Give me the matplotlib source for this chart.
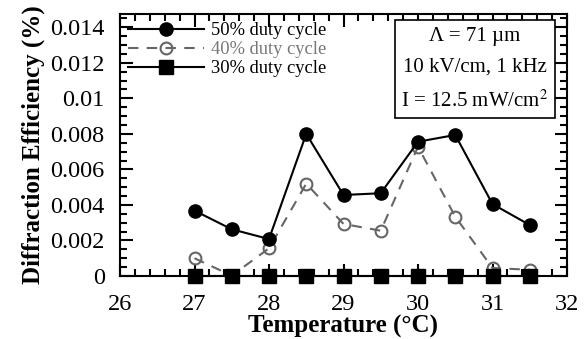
import matplotlib
matplotlib.use("Agg")
import matplotlib.pyplot as plt
from matplotlib.ticker import MultipleLocator, FixedLocator

temps = [27, 27.5, 28, 28.5, 29, 29.5, 30, 30.5, 31, 31.5]
duty50 = [0.00368, 0.00263, 0.00208, 0.0080, 0.00456, 0.00466, 0.00756, 0.00794, 0.00405, 0.00287]
duty40 = [0.00100, 0.00002, 0.00156, 0.0052, 0.00293, 0.00255, 0.00728, 0.00334, 0.00045, 0.00035]
duty30 = [0, 0, 0, 0, 0, 0, 0, 0, 0, 0]
yticks = [0, 0.002, 0.004, 0.006, 0.008, 0.01, 0.012, 0.014]
yticklabels = ["0", "0.002", "0.004", "0.006", "0.008", "0.01", "0.012", "0.014"]

plt.rcParams['font.family'] = ['Liberation Serif', 'DejaVu Serif']
plt.rcParams['mathtext.fontset'] = 'stix'

fig = plt.figure(figsize=(5.87, 3.39), dpi=100)
ax = fig.add_axes([120/587, 1-276/339, 447/587, 262/339])

ax.plot(temps, duty50, '-', color='black', lw=1.5, marker='o', ms=9.5,
        mfc='black', mec='black', label='50% duty cycle', clip_on=False, zorder=3)
ax.plot(temps, duty40, '--', color='#666666', lw=1.5, marker='o', ms=8.5,
        mfc='none', mec='#666666', mew=1.5, dashes=(5, 4), label='40% duty cycle',
        clip_on=False, zorder=2)
ax.plot(temps, duty30, '-', color='black', lw=1.5, marker='s', ms=10.5,
        mfc='black', mec='black', label='30% duty cycle', clip_on=False, zorder=4)

ax.set_xlim(26, 32)
ax.set_ylim(0, 0.01475)
ax.xaxis.set_major_locator(MultipleLocator(1))
ax.xaxis.set_minor_locator(MultipleLocator(0.2))
ax.yaxis.set_major_locator(FixedLocator(yticks))
ax.set_yticklabels(yticklabels)
ax.yaxis.set_minor_locator(MultipleLocator(0.0005))
ax.tick_params(which='both', direction='in', top=True, right=True, width=1.5, labelsize=17.5)
ax.tick_params(which='major', length=9)
ax.tick_params(which='minor', length=5)
ax.tick_params(axis='x', pad=13)
ax.tick_params(axis='y', pad=11)
for s in ax.spines.values():
    s.set_linewidth(1.5)

ax.set_xlabel('Temperature (°C)', fontsize=18, fontweight='bold', labelpad=0)
ax.set_ylabel('Diffraction Efficiency (%)', fontsize=18, fontweight='bold', labelpad=4)

leg = ax.legend(loc='upper left', bbox_to_anchor=(0.0, 1.0), frameon=False, fontsize=13.3,
                handlelength=4.1, handletextpad=0.35, labelspacing=0.1,
                borderaxespad=0.0, borderpad=0.45)
leg.get_texts()[1].set_color('#777777')

ax.text(0.794, 0.952, 'Λ = 71 µm\n10 kV/cm, 1 kHz\nI = 12.5 mW/cm$^2$', transform=ax.transAxes,
        ha='center', va='top', fontsize=15, linespacing=1.85,
        bbox=dict(boxstyle='square,pad=0.3', fc='white', ec='black', lw=1.2))

fig.savefig('out.png', dpi=100)
